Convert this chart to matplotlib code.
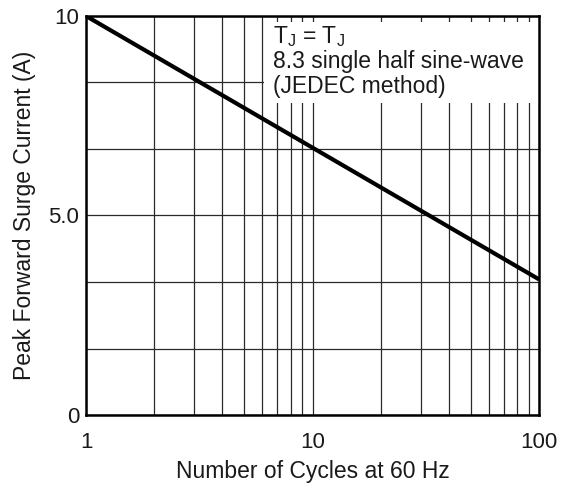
import numpy as np
import matplotlib
matplotlib.use('Agg')
import matplotlib.pyplot as plt
from matplotlib.patches import Rectangle

plt.rcParams['font.family'] = ['Liberation Sans', 'DejaVu Sans']

# ── Data ─────────────────────────────────────────────────────────────────────
cycles = [1, 100]            # number of cycles at 60 Hz
surge_a = [10.0, 3.4]        # peak forward surge current (A)
y_ticks = [0, 10/6, 20/6, 5.0, 40/6, 50/6, 10]
y_labels = ['0', '', '', '5.0', '', '', '10']
x_grid = [1, 2, 3, 4, 5, 6, 7, 8, 9, 10, 20, 30, 40, 50, 60, 70, 80, 90, 100]
x_labels = ['1', '10', '100']
note_lines = ['T$_\\mathregular{J}$ = T$_\\mathregular{J}$',
              '8.3 single half sine-wave',
              '(JEDEC method)']

W, H = 574, 491
fig = plt.figure(figsize=(W / 100, H / 100), dpi=100)
# axes box in pixels: left 86, right 539, top 16, bottom 415
ax = fig.add_axes([86 / W, 1 - 415 / H, 453 / W, 399 / H])

ax.set_xscale('log')
ax.set_xlim(1, 100)
ax.set_ylim(0, 10)

for xv in x_grid:
    ax.axvline(xv, color='#2a2a2a', lw=0.9, zorder=1)
for yv in y_ticks:
    ax.axhline(yv, color='#2a2a2a', lw=0.9, zorder=1)

# white note box that hides the grid in the upper right
ax.add_patch(Rectangle((0.393, 0.782), 0.607, 0.203, transform=ax.transAxes,
                       facecolor='white', edgecolor='none', zorder=2))
for i, line in enumerate(note_lines):
    fig.text(273 / W, 1 - (43 + 25 * i) / H, line, ha='left', va='baseline',
             fontsize=16.5, color='#1a1a1a', zorder=3)

ax.plot(cycles, surge_a, color='black', lw=3, solid_capstyle='butt', zorder=4)

ax.set_yticks(y_ticks)
ax.set_yticklabels(y_labels, fontsize=16, color='#1a1a1a')
ax.set_xticks([1, 10, 100])
ax.set_xticklabels(x_labels, fontsize=16, color='#1a1a1a')
ax.xaxis.set_minor_locator(matplotlib.ticker.NullLocator())
ax.tick_params(length=0)
ax.tick_params(axis='x', pad=12)
ax.tick_params(axis='y', pad=5)

for s in ax.spines.values():
    s.set_linewidth(1.8)
    s.set_zorder(5)

ax.set_xlabel('Number of Cycles at 60 Hz', fontsize=16.5, color='#1a1a1a')
ax.set_ylabel('Peak Forward Surge Current (A)', fontsize=16.5, color='#1a1a1a')
ax.xaxis.set_label_coords(0.5, -(460 - 415) / 399)
ax.yaxis.set_label_coords(-(86 - 36) / 453, 0.5)

fig.savefig('out.png', dpi=100)
